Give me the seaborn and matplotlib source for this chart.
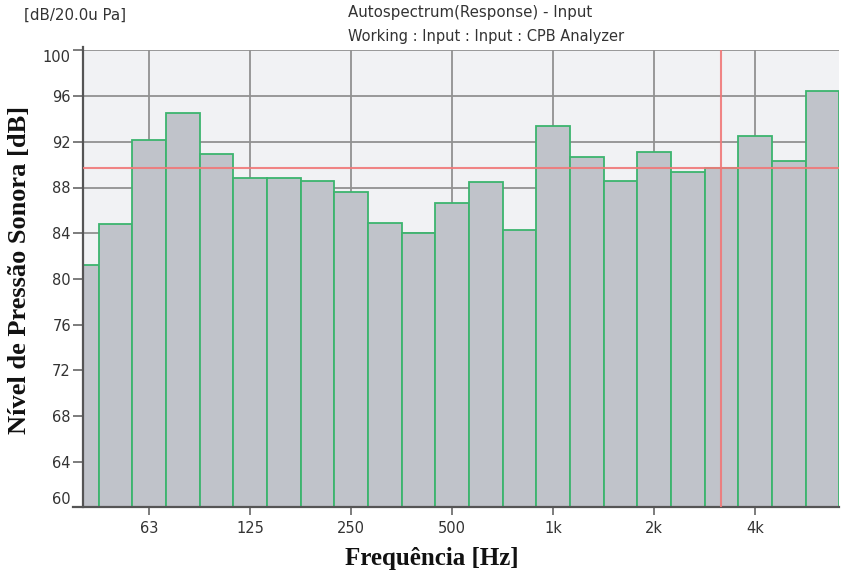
import matplotlib
matplotlib.use("Agg")
import matplotlib.pyplot as plt
import seaborn as sns

# ---- data (1/3-octave CPB spectrum) ----
bands = ["40", "50", "63", "80", "100", "125", "160", "200", "250", "315",
         "400", "500", "630", "800", "1k", "1.25k", "1.6k", "2k", "2.5k",
         "3.15k", "4k", "5k", "6.3k"]
levels = [81.2, 84.8, 92.2, 94.5, 90.95, 88.83, 88.8, 88.56, 87.6, 84.88,
          83.98, 86.6, 88.44, 84.27, 93.4, 90.69, 88.59, 91.07, 89.32,
          89.75, 92.5, 90.33, 96.49]
xtick_labels = ["63", "125", "250", "500", "1k", "2k", "4k"]
ytick_values = [60, 64, 68, 72, 76, 80, 84, 88, 92, 96, 100]
cursor_band = "3.15k"

sns.set_theme(style="ticks")
plt.rcParams["font.family"] = ["DejaVu Sans"]

fig = plt.figure(figsize=(8.41, 5.71), dpi=100)
ax = fig.add_axes([82.7 / 841, 1 - 507.4 / 571, (839.3 - 82.7) / 841, (507.4 - 50.4) / 571])
ax.set_facecolor("#f1f2f4")

sns.barplot(x=bands, y=levels, order=bands, width=1.0, color="#c0c3ca",
            saturation=1, edgecolor="#3cb46e", linewidth=1.3, ax=ax, zorder=2)

ax.set_xlim(0.03, 22.5)
ax.set_ylim(60, 100)
ax.set_xticks([bands.index(t) for t in xtick_labels])
ax.set_xticklabels(xtick_labels)
ax.set_yticks(ytick_values)
ax.set_yticklabels([str(v) for v in ytick_values])
ax.set_xlabel("")
ax.set_ylabel("")

ax.grid(True, color="#919191", linewidth=1.3, zorder=0)
ax.set_axisbelow(True)

tc = "#333333"
ax.tick_params(axis="y", length=7, width=1.2, color="#666666", pad=1.5,
               labelsize=10.5, labelcolor=tc)
ax.tick_params(axis="x", length=6, width=1.2, color="#666666", pad=4,
               labelsize=10.5, labelcolor=tc)
ylabels = ax.get_yticklabels()
ylabels[0].set_va("bottom")
ylabels[-1].set_va("top")

for s in ["top", "right"]:
    ax.spines[s].set_visible(False)
for s in ["left", "bottom"]:
    ax.spines[s].set_color("#555555")
    ax.spines[s].set_linewidth(1.6)
ax.spines["bottom"].set_bounds(0.03 - 10 / 33.65, 22.5)
ax.spines["left"].set_bounds(60, 100 + 3 / 11.43)

# cursor lines
ci = bands.index(cursor_band)
ax.axhline(levels[ci], color="#f07878", linewidth=1.5, alpha=0.9, zorder=5)
ax.axvline(ci, color="#f07878", linewidth=1.5, alpha=0.9, zorder=5)

# header texts
fig.text(24 / 841, 1 - 15 / 571, "[dB/20.0u Pa]", fontsize=10.8, color=tc,
         ha="left", va="center")
fig.text(348 / 841, 1 - 13 / 571, "Autospectrum(Response) - Input", fontsize=10.8,
         color=tc, ha="left", va="center")
fig.text(348 / 841, 1 - 36 / 571, "Working : Input : Input : CPB Analyzer",
         fontsize=10.5, color=tc, ha="left", va="center")

# axis titles
fig.text(432 / 841, 1 - 558 / 571, "Frequência [Hz]", fontsize=18,
         fontweight="bold", family="Liberation Serif", color="#111111",
         ha="center", va="center")
fig.text(20 / 841, 1 - 270 / 571, "Nível de Pressão Sonora [dB]", fontsize=19,
         fontweight="bold", family="Liberation Serif", color="#111111",
         ha="center", va="center", rotation=90)

fig.savefig("out.png", dpi=100)
